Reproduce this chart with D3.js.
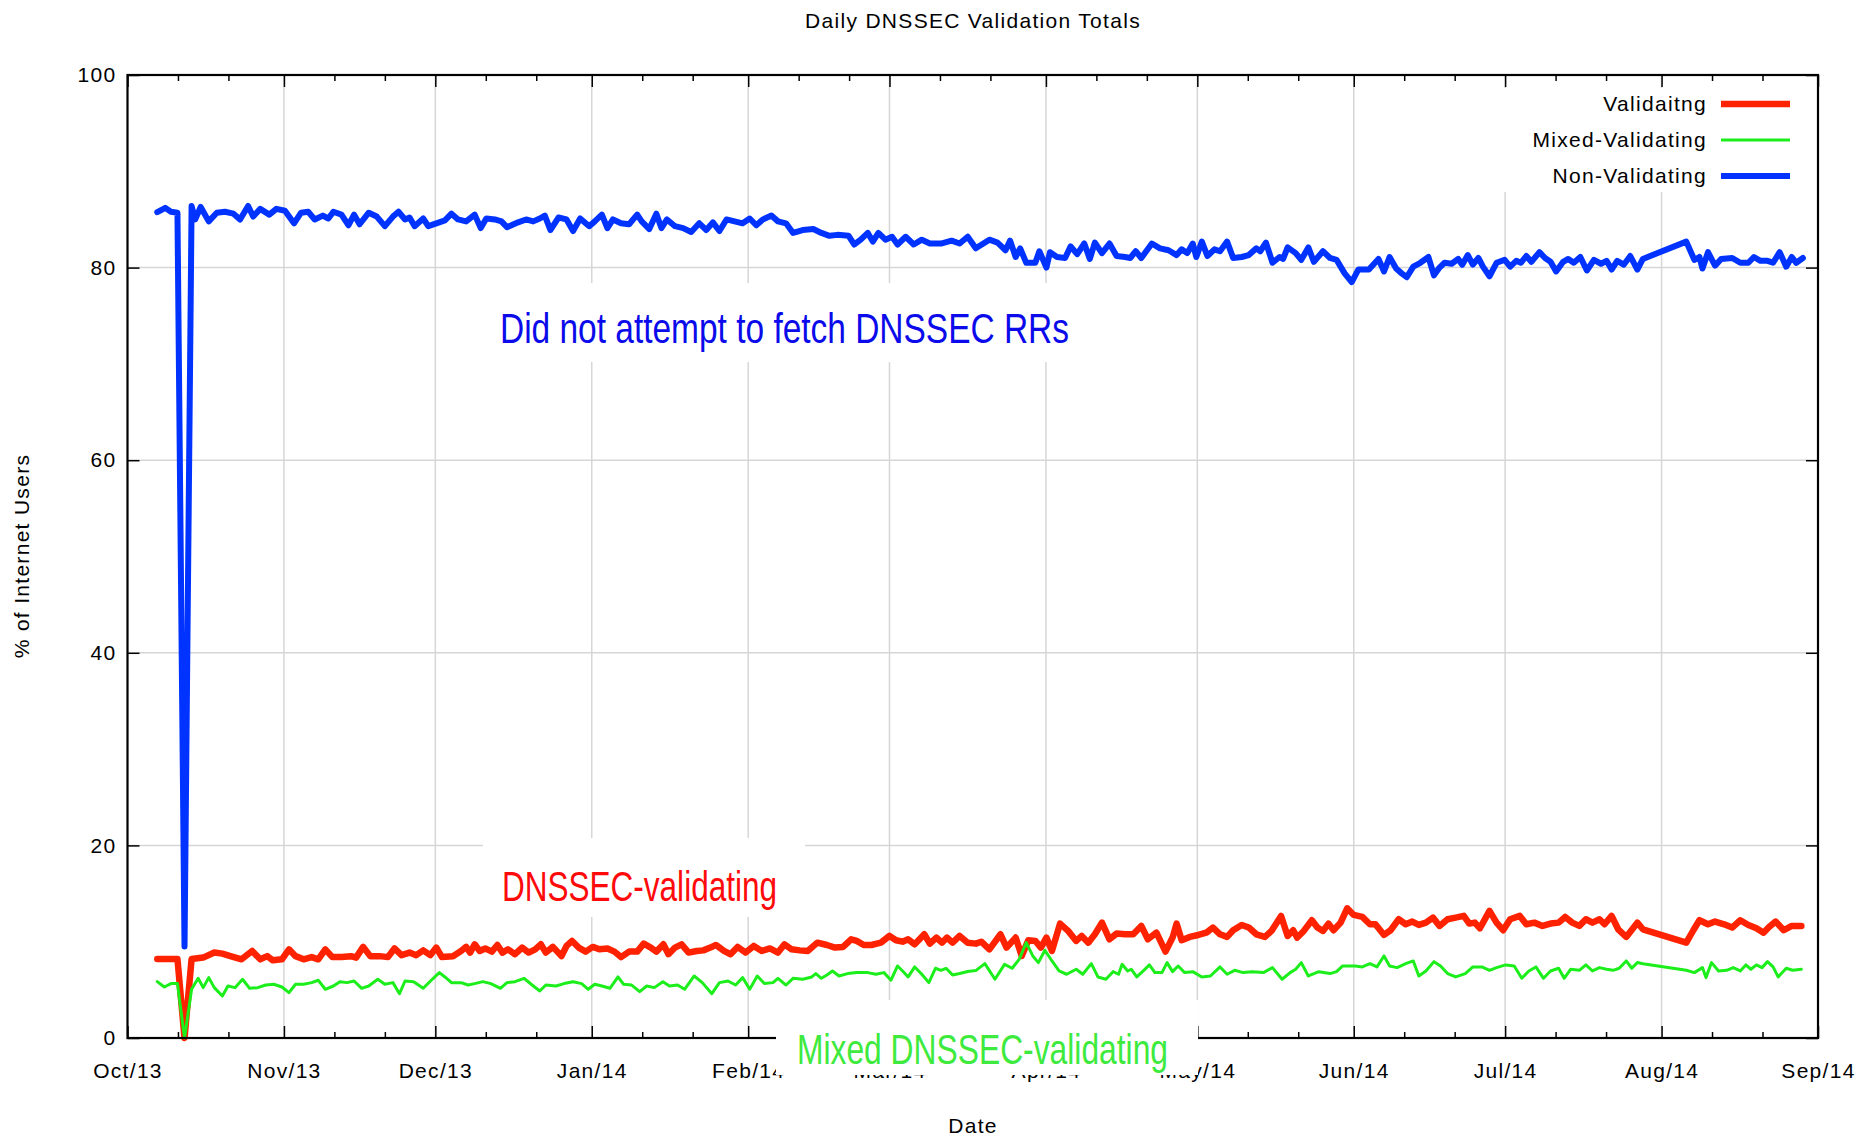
<!DOCTYPE html>
<html>
<head>
<meta charset="utf-8">
<title>Daily DNSSEC Validation Totals</title>
<script src="https://cdn.jsdelivr.net/npm/d3@7"></script>
<style>
    body { margin: 0; background: #fff; }
    text { font-family: "Liberation Sans", Arial, sans-serif; }
</style>
</head>
<body>
<svg id="chart" width="1857" height="1138"></svg>
<script>
// days are counted from 1 Oct 2013 (UTC), values are % of internet users
const seriesNames = ["Validaitng", "Mixed-Validating", "Non-Validating"];

const validDays = [5.9, 9.9, 11.3, 12.7, 15.0, 17.2, 18.8, 20.4, 22.6, 24.7, 26.3, 27.7, 28.8, 30.6, 32.0, 33.3, 34.9, 36.5, 37.8, 39.2,
    40.6, 42.4, 44.3, 45.3, 46.7, 48.1, 50.0, 51.6, 52.9, 54.3, 55.9, 57.2, 58.6, 60.0, 61.2, 62.3, 64.5, 66.1, 67.1, 67.9,
    68.8, 69.8, 70.9, 72.2, 73.3, 74.3, 75.4, 76.8, 78.2, 79.5, 80.8, 81.9, 82.9, 84.3, 86.0, 87.0, 88.1, 89.4, 90.8, 92.2,
    93.5, 95.1, 96.5, 97.8, 99.4, 101.0, 102.3, 103.7, 104.8, 106.2, 107.2, 108.5, 109.8, 111.2, 112.8, 114.1, 115.5, 116.6, 118.2, 119.5,
    120.9, 122.5, 124.1, 125.7, 127.3, 128.9, 130.2, 131.6, 133.2, 134.8, 136.7, 138.6, 140.2, 141.8, 143.4, 144.5, 145.9, 147.4, 149.3, 151.0,
    152.3, 153.6, 154.7, 156.0, 157.9, 159.0, 160.3, 161.4, 162.4, 163.5, 164.9, 166.5, 168.1, 169.2, 170.8, 173.0, 174.2, 176.0, 177.2, 178.5,
    179.9, 181.0, 182.1, 183.2, 184.8, 186.4, 188.0, 189.1, 190.4, 191.7, 193.1, 194.6, 196.0, 197.7, 199.3, 200.9, 202.2, 203.9, 205.7, 207.1,
    207.9, 208.9, 210.5, 212.2, 213.8, 215.1, 216.5, 217.9, 219.1, 220.8, 222.2, 223.7, 225.4, 226.7, 228.6, 229.9, 231.0, 231.8, 233.1, 234.7,
    235.8, 236.9, 238.0, 239.0, 240.4, 241.7, 243.0, 244.7, 246.2, 247.3, 249.0, 250.3, 251.9, 253.3, 254.6, 255.9, 257.3, 258.7, 260.0, 261.6,
    263.2, 264.8, 265.9, 267.0, 268.0, 269.9, 271.3, 272.6, 274.0, 275.9, 277.2, 278.8, 280.4, 282.0, 283.6, 284.9, 286.3, 287.7, 289.0, 290.3,
    291.7, 292.7, 294.1, 295.4, 297.0, 299.2, 300.3, 308.9, 310.3, 311.5, 313.2, 314.6, 316.4, 318.0, 319.6, 321.2, 322.8, 324.2, 325.3, 326.6,
    328.2, 329.8, 331.7];
const validPct = [8.2, 8.2, 0, 8.2, 8.35, 8.87, 8.76, 8.5, 8.17, 9.04, 8.17, 8.5, 8.07, 8.17, 9.21, 8.5, 8.17, 8.4, 8.17, 9.21,
    8.4, 8.4, 8.5, 8.35, 9.46, 8.5, 8.5, 8.4, 9.3, 8.6, 8.87, 8.6, 9.1, 8.6, 9.39, 8.4, 8.5, 9.04, 9.46, 8.87,
    9.73, 9.04, 9.3, 8.97, 9.66, 8.87, 9.21, 8.7, 9.39, 8.87, 9.21, 9.73, 8.87, 9.46, 8.5, 9.56, 10.08, 9.39, 8.97, 9.46,
    9.21, 9.3, 8.97, 8.4, 8.97, 8.97, 9.8, 9.39, 8.97, 9.73, 8.7, 9.39, 9.73, 8.87, 9.04, 9.1, 9.39, 9.66, 9.04, 8.7,
    9.46, 8.87, 9.56, 9.04, 9.3, 8.87, 9.73, 9.21, 9.1, 9.04, 9.9, 9.66, 9.39, 9.46, 10.25, 10.08, 9.66, 9.66, 9.9, 10.6,
    10.15, 10.0, 10.25, 9.73, 10.77, 9.8, 10.43, 9.9, 10.43, 9.9, 10.6, 9.9, 9.8, 10.0, 9.21, 10.77, 9.39, 10.43, 8.52, 10.15,
    10.08, 9.39, 10.43, 9.04, 11.88, 11.12, 10.08, 10.6, 9.9, 10.77, 11.98, 10.25, 10.84, 10.77, 10.77, 11.64, 10.25, 10.94, 8.97, 10.43,
    11.88, 10.15, 10.5, 10.7, 10.94, 11.47, 10.77, 10.5, 11.19, 11.74, 11.47, 10.77, 10.5, 11.12, 12.68, 10.6, 11.19, 10.43, 11.12, 12.23,
    11.47, 11.12, 11.88, 11.19, 11.98, 13.47, 12.78, 12.57, 11.81, 11.81, 10.7, 11.19, 12.33, 11.81, 12.09, 11.74, 11.98, 12.5, 11.64, 12.33,
    12.5, 12.68, 11.88, 11.98, 11.4, 13.2, 11.98, 11.19, 12.33, 12.68, 11.81, 11.98, 11.64, 11.88, 11.98, 12.57, 11.98, 11.64, 12.33, 11.98,
    12.33, 11.81, 12.68, 11.29, 10.5, 11.98, 11.29, 9.9, 11.19, 12.23, 11.81, 12.09, 11.81, 11.47, 12.23, 11.74, 11.4, 10.94, 11.53, 12.09,
    11.19, 11.64, 11.64];

const mixedDays = [5.9, 7.3, 8.6, 9.9, 11.3, 12.7, 14.0, 15.0, 16.1, 17.2, 18.8, 19.9, 21.3, 22.8, 24.2, 25.8, 27.4, 29.0, 30.6, 32.0,
    33.3, 34.9, 36.5, 37.8, 39.2, 40.8, 42.1, 43.5, 44.9, 46.4, 47.8, 49.6, 51.0, 52.6, 53.9, 55.0, 56.7, 58.6, 60.2, 61.8,
    62.9, 64.2, 66.1, 67.5, 68.8, 70.4, 72.0, 73.9, 75.2, 76.8, 78.6, 80.0, 81.7, 82.9, 84.9, 86.5, 88.3, 90.0, 91.3, 92.6,
    94.0, 95.6, 97.2, 98.3, 99.9, 101.5, 102.9, 104.4, 106.1, 107.4, 109.0, 110.4, 112.3, 113.9, 115.8, 117.3, 119.0, 120.5, 121.9, 123.3,
    124.8, 126.2, 127.9, 128.9, 130.5, 131.9, 133.8, 135.6, 136.4, 137.5, 138.6, 139.7, 141.0, 142.7, 144.5, 146.7, 148.3, 149.9, 151.3, 152.6,
    153.6, 154.7, 156.0, 157.4, 158.8, 160.1, 161.2, 162.2, 163.5, 164.9, 166.5, 168.1, 169.9, 171.9, 173.8, 175.3, 176.7, 178.1, 179.4, 180.5,
    181.8, 183.2, 184.6, 186.1, 188.0, 189.3, 191.0, 192.3, 193.9, 195.3, 196.4, 197.1, 198.2, 198.9, 200.0, 201.4, 202.5, 203.6, 205.0, 206.0,
    207.1, 208.2, 209.5, 211.1, 212.9, 214.6, 216.5, 217.9, 219.4, 221.1, 222.9, 225.1, 226.9, 228.8, 230.4, 231.5, 232.6, 234.0, 236.1, 238.3,
    239.6, 240.8, 243.3, 244.7, 246.2, 247.6, 249.0, 250.1, 251.6, 253.3, 254.8, 255.9, 257.3, 258.9, 260.2, 261.6, 263.2, 265.1, 266.6, 268.4,
    269.9, 271.3, 273.1, 274.8, 276.3, 277.7, 279.1, 280.6, 282.0, 283.6, 284.7, 286.0, 287.7, 289.0, 290.3, 291.7, 293.1, 294.4, 295.6, 297.0,
    298.1, 299.2, 300.3, 308.9, 310.5, 312.1, 312.8, 313.9, 315.3, 316.9, 318.2, 319.6, 320.7, 321.7, 322.8, 323.9, 325.0, 326.1, 327.1, 328.7,
    330.0, 331.7];
const mixedPct = [5.85, 5.3, 5.65, 5.65, 0, 5.06, 6.2, 5.23, 6.27, 5.23, 4.36, 5.4, 5.23, 6.1, 5.16, 5.23, 5.5, 5.58, 5.3, 4.71,
    5.58, 5.58, 5.75, 6.0, 5.06, 5.4, 5.85, 5.75, 5.92, 5.16, 5.4, 6.1, 5.58, 5.75, 4.6, 5.92, 5.85, 5.16, 6.0, 6.79,
    6.34, 5.75, 5.75, 5.5, 5.65, 5.85, 5.65, 5.16, 5.75, 5.85, 6.2, 5.58, 4.88, 5.5, 5.4, 5.65, 5.85, 5.65, 5.06, 5.58,
    5.4, 5.16, 6.34, 5.58, 5.5, 4.81, 5.4, 5.23, 5.85, 5.4, 5.5, 5.06, 6.44, 5.75, 4.6, 5.75, 5.92, 5.5, 6.27, 5.06,
    6.44, 5.65, 5.75, 6.2, 5.5, 6.2, 6.1, 6.34, 6.69, 6.2, 6.55, 6.96, 6.44, 6.69, 6.79, 6.79, 6.62, 6.79, 6.0, 7.48,
    6.96, 6.34, 7.38, 6.62, 5.75, 7.24, 7.03, 7.24, 6.55, 6.69, 6.9, 7.0, 7.72, 6.1, 7.65, 7.24, 8.17, 9.91, 8.52, 7.83,
    9.11, 8.0, 6.96, 6.62, 7.14, 6.62, 7.72, 6.34, 6.1, 6.89, 6.62, 7.65, 6.96, 7.14, 6.34, 7.03, 7.59, 6.79, 6.79, 7.83,
    6.89, 7.48, 6.79, 6.89, 6.34, 6.44, 7.38, 6.62, 7.03, 6.79, 6.89, 6.79, 7.31, 6.1, 6.79, 7.14, 7.83, 6.44, 6.89, 6.69,
    6.89, 7.48, 7.48, 7.38, 7.72, 7.38, 8.52, 7.48, 7.31, 7.72, 8.0, 6.44, 6.96, 7.93, 7.48, 6.69, 6.34, 6.69, 7.38, 7.38,
    7.03, 7.31, 7.59, 7.48, 6.2, 6.96, 7.38, 6.2, 6.96, 7.24, 6.2, 7.14, 7.03, 7.59, 6.96, 7.31, 7.14, 7.03, 7.24, 8.0,
    7.24, 7.83, 7.72, 7.03, 6.79, 7.31, 6.27, 7.83, 6.96, 7.03, 7.31, 6.96, 7.59, 7.14, 7.59, 7.31, 7.93, 7.38, 6.34, 7.24,
    7.03, 7.14];

const nonDays = [5.9, 7.5, 8.6, 9.9, 11.3, 12.7, 13.4, 14.5, 16.1, 17.7, 19.3, 21.0, 22.3, 23.9, 24.9, 26.3, 28.1, 29.5, 31.2, 33.0,
    34.4, 35.8, 37.1, 38.7, 39.8, 40.8, 42.4, 43.8, 44.9, 46.0, 47.8, 49.4, 51.0, 52.6, 53.7, 55.0, 55.9, 56.9, 58.6, 59.6,
    61.2, 62.9, 64.2, 65.5, 67.1, 68.8, 70.0, 71.1, 72.8, 74.1, 75.2, 77.4, 79.0, 80.4, 81.7, 82.7, 83.8, 85.4, 87.0, 88.3,
    89.7, 91.5, 92.6, 94.0, 95.1, 96.2, 97.8, 99.4, 101.0, 101.9, 103.4, 104.8, 105.8, 106.9, 108.5, 110.1, 111.7, 113.3, 114.7, 116.0,
    117.3, 118.7, 120.3, 121.9, 123.3, 124.6, 125.9, 127.6, 128.9, 130.5, 131.9, 133.8, 135.9, 137.5, 139.1, 140.7, 142.9, 144.0, 145.3, 146.7,
    147.7, 148.8, 150.2, 151.5, 152.6, 154.2, 155.8, 157.4, 159.0, 161.2, 163.3, 164.9, 166.5, 168.1, 170.8, 172.4, 174.0, 174.9, 176.0, 176.9,
    178.1, 179.9, 180.7, 182.1, 182.8, 184.2, 185.8, 186.9, 188.2, 189.6, 190.7, 191.7, 193.1, 194.6, 196.0, 197.7, 198.7, 199.8, 200.9, 203.0,
    204.6, 206.3, 207.9, 208.9, 210.0, 211.1, 211.8, 212.9, 214.0, 215.4, 216.5, 217.9, 219.1, 220.8, 222.2, 223.7, 224.5, 225.6, 226.9, 228.3,
    229.0, 229.9, 231.5, 232.6, 234.0, 235.1, 236.9, 238.3, 239.6, 241.2, 242.6, 243.9, 246.0, 247.9, 249.0, 250.1, 251.4, 252.5, 253.5, 254.8,
    256.2, 257.8, 258.9, 260.0, 261.0, 262.4, 263.7, 264.5, 265.6, 266.6, 267.7, 268.6, 269.9, 271.3, 272.9, 274.0, 275.2, 276.1, 277.2, 278.2,
    279.8, 280.9, 282.0, 283.1, 284.5, 285.5, 286.6, 287.9, 289.2, 290.6, 292.0, 293.1, 294.1, 295.2, 296.5, 297.8, 299.2, 300.3, 308.9, 310.5,
    311.5, 312.1, 313.2, 314.6, 315.8, 318.0, 319.6, 321.2, 322.3, 323.6, 325.0, 326.1, 327.4, 328.7, 329.8, 330.7, 332.0];
const nonPct = [85.75, 86.2, 85.8, 85.7, 9.5, 86.4, 85.0, 86.3, 84.8, 85.7, 85.8, 85.6, 85.0, 86.4, 85.3, 86.1, 85.5, 86.1, 85.9, 84.6,
    85.7, 85.8, 85.0, 85.4, 85.1, 85.8, 85.5, 84.4, 85.5, 84.5, 85.7, 85.3, 84.3, 85.3, 85.8, 85.0, 85.2, 84.3, 85.1, 84.3,
    84.6, 84.9, 85.6, 85.0, 84.8, 85.5, 84.1, 85.1, 85.0, 84.8, 84.2, 84.7, 85.0, 84.8, 85.1, 85.4, 83.9, 85.2, 85.0, 83.8,
    85.1, 84.3, 84.8, 85.5, 84.1, 85.0, 84.6, 84.5, 85.5, 84.8, 84.0, 85.6, 84.1, 85.0, 84.3, 84.1, 83.7, 84.6, 83.9, 84.7,
    83.8, 85.0, 84.8, 84.6, 85.1, 84.4, 85.0, 85.4, 84.8, 84.6, 83.6, 83.9, 84.0, 83.6, 83.3, 83.4, 83.3, 82.4, 82.9, 83.6,
    82.7, 83.6, 82.9, 83.2, 82.4, 83.2, 82.4, 82.9, 82.5, 82.5, 82.8, 82.5, 83.2, 82.0, 82.9, 82.6, 81.8, 82.8, 81.1, 82.0,
    80.5, 80.5, 81.7, 80.0, 81.6, 81.1, 81.0, 82.2, 81.4, 82.5, 80.9, 82.6, 81.5, 82.5, 81.2, 81.1, 81.0, 81.7, 81.0, 82.5,
    82.0, 81.8, 81.3, 81.9, 81.5, 82.5, 81.1, 82.7, 81.2, 81.9, 81.7, 82.7, 81.0, 81.1, 81.3, 82.0, 81.7, 82.6, 80.5, 81.1,
    80.9, 82.1, 81.5, 80.8, 82.1, 80.6, 81.7, 81.0, 80.8, 79.4, 78.5, 79.8, 79.8, 80.9, 79.6, 81.1, 79.9, 79.4, 79.0, 80.1,
    80.5, 81.1, 79.2, 80.0, 80.5, 80.4, 80.9, 80.3, 81.3, 80.3, 81.0, 80.1, 79.1, 80.5, 80.8, 80.1, 80.7, 80.5, 81.2, 80.6,
    81.6, 81.0, 80.6, 79.6, 80.6, 80.9, 80.5, 81.1, 79.7, 80.8, 80.4, 80.7, 79.8, 80.7, 80.3, 81.2, 79.8, 80.9, 82.7, 80.8,
    81.1, 79.9, 81.6, 80.2, 80.9, 81.0, 80.5, 80.5, 81.1, 80.7, 80.7, 80.5, 81.6, 80.1, 81.1, 80.5, 81.0];

const xTickLabels = ["Oct/13", "Nov/13", "Dec/13", "Jan/14", "Feb/14", "Mar/14", "Apr/14", "May/14",
    "Jun/14", "Jul/14", "Aug/14", "Sep/14"];
const minorTickDays = [11, 21];   // small ticks inside each month
const yTicks = [0, 20, 40, 60, 80, 100];

const colors = ["#ff2200", "#1bee1b", "#0033ff"];
const widths = [6.5, 3, 6];

const startDate = new Date(Date.UTC(2013, 9, 1));
const endDate = new Date(Date.UTC(2014, 8, 1));
function dayToDate(d) {
    return new Date(startDate.getTime() + d * 864e5);
}

const plotLeft = 127.5, plotRight = 1818, plotTop = 75, plotBottom = 1038;

const svg = d3.select("#chart");
const x = d3.scaleUtc().domain([startDate, endDate]).range([plotLeft, plotRight]);
const y = d3.scaleLinear().domain([0, 100]).range([plotBottom, plotTop]);

const monthTicks = d3.utcMonth.range(startDate, d3.utcDay.offset(endDate, 1));
let minorTicks = [];
monthTicks.slice(0, -1).forEach((m) => {
    minorTickDays.forEach((dd) => minorTicks.push(d3.utcDay.offset(m, dd - 1)));
});

// grid
const grid = svg.append("g").attr("stroke", "#d6d6d6").attr("stroke-width", 1.5);
grid.selectAll(".vx").data(monthTicks.slice(1, -1)).enter().append("line")
    .attr("x1", (d) => x(d)).attr("x2", (d) => x(d))
    .attr("y1", plotTop).attr("y2", plotBottom);
grid.selectAll(".hy").data(yTicks.slice(1, -1)).enter().append("line")
    .attr("x1", plotLeft).attr("x2", plotRight)
    .attr("y1", (d) => y(d)).attr("y2", (d) => y(d));

// data lines
const series = [
    {days: validDays, vals: validPct},
    {days: mixedDays, vals: mixedPct},
    {days: nonDays, vals: nonPct}
];
const line = d3.line()
    .x((d) => x(dayToDate(d[0])))
    .y((d) => y(d[1]));
series.forEach((s, i) => {
    let pts = s.days.map((d, j) => [d, s.vals[j]]);
    svg.append("path")
        .datum(pts)
        .attr("d", line)
        .attr("fill", "none")
        .attr("stroke", colors[i])
        .attr("stroke-width", widths[i])
        .attr("stroke-linejoin", "round")
        .attr("stroke-linecap", "round");
});

// axes: ticks point inward on all four sides
function styleAxis(g) {
    g.select(".domain").remove();
    g.selectAll(".tick line").attr("stroke", "#000").attr("stroke-width", 1.5);
    g.selectAll("text")
        .attr("font-family", "Liberation Sans, Arial, sans-serif")
        .attr("font-size", 21)
        .attr("letter-spacing", 1.3)
        .attr("fill", "#000");
}
svg.append("g").attr("transform", `translate(0,${plotBottom})`)
    .call(d3.axisBottom(x).tickValues(monthTicks).tickSizeInner(-12).tickSizeOuter(0).tickPadding(25)
        .tickFormat((d, i) => xTickLabels[i]))
    .call(styleAxis);
svg.append("g").attr("transform", `translate(0,${plotBottom})`)
    .call(d3.axisBottom(x).tickValues(minorTicks).tickSizeInner(-6).tickSizeOuter(0).tickFormat(""))
    .call(styleAxis);
svg.append("g").attr("transform", `translate(0,${plotTop})`)
    .call(d3.axisTop(x).tickValues(monthTicks).tickSizeInner(-12).tickSizeOuter(0).tickFormat(""))
    .call(styleAxis);
svg.append("g").attr("transform", `translate(0,${plotTop})`)
    .call(d3.axisTop(x).tickValues(minorTicks).tickSizeInner(-6).tickSizeOuter(0).tickFormat(""))
    .call(styleAxis);
svg.append("g").attr("transform", `translate(${plotLeft},0)`)
    .call(d3.axisLeft(y).tickValues(yTicks).tickSizeInner(-12).tickSizeOuter(0).tickPadding(11))
    .call(styleAxis);
svg.append("g").attr("transform", `translate(${plotRight},0)`)
    .call(d3.axisRight(y).tickValues(yTicks).tickSizeInner(-12).tickSizeOuter(0).tickFormat(""))
    .call(styleAxis);

svg.append("rect")
    .attr("x", plotLeft).attr("y", plotTop)
    .attr("width", plotRight - plotLeft).attr("height", plotBottom - plotTop)
    .attr("fill", "none").attr("stroke", "#000").attr("stroke-width", 2.2);

// titles
const label = (txt, tx, ty, rot) => svg.append("text")
    .attr("transform", `translate(${tx},${ty}) rotate(${rot || 0})`)
    .attr("text-anchor", "middle")
    .attr("font-size", 21)
    .attr("letter-spacing", 1.3)
    .text(txt);
label("Daily DNSSEC Validation Totals", 973, 28);
label("Date", 973, 1133);
label("% of Internet Users", 29, 556, -90);

// key, opaque box like gnuplot
svg.append("rect").attr("x", 1490).attr("y", 88).attr("width", 326).attr("height", 104).attr("fill", "#fff");
const key = svg.append("g");
seriesNames.forEach((name, i) => {
    let ky = 104 + i * 36;
    key.append("text")
        .attr("x", 1707).attr("y", ky + 7)
        .attr("text-anchor", "end")
        .attr("font-size", 21)
        .attr("letter-spacing", 1.3)
        .text(name);
    key.append("line")
        .attr("x1", 1721).attr("x2", 1790)
        .attr("y1", ky).attr("y2", ky)
        .attr("stroke", colors[i])
        .attr("stroke-width", widths[i]);
});

// hand written notes pasted on white patches
const notes = [
    {text: "Did not attempt to fetch DNSSEC RRs", color: "#0a0aea", box: [482, 283, 615, 79], tx: 500, ty: 343, len: 569},
    {text: "DNSSEC-validating", color: "#ff0a0a", box: [483, 838, 322, 79], tx: 502, ty: 901, len: 275},
    {text: "Mixed DNSSEC-validating", color: "#3dea3d", box: [776, 1000, 422, 75], tx: 797, ty: 1064, len: 371}
];
notes.forEach((n) => {
    svg.append("rect")
        .attr("x", n.box[0]).attr("y", n.box[1])
        .attr("width", n.box[2]).attr("height", n.box[3])
        .attr("fill", "#fff");
    svg.append("text")
        .attr("x", n.tx).attr("y", n.ty)
        .attr("font-family", "Inter, Roboto, sans-serif")
        .attr("font-weight", 200)
        .attr("font-size", 43)
        .attr("textLength", n.len)
        .attr("lengthAdjust", "spacingAndGlyphs")
        .attr("fill", n.color)
        .text(n.text);
});
</script>
</body>
</html>
